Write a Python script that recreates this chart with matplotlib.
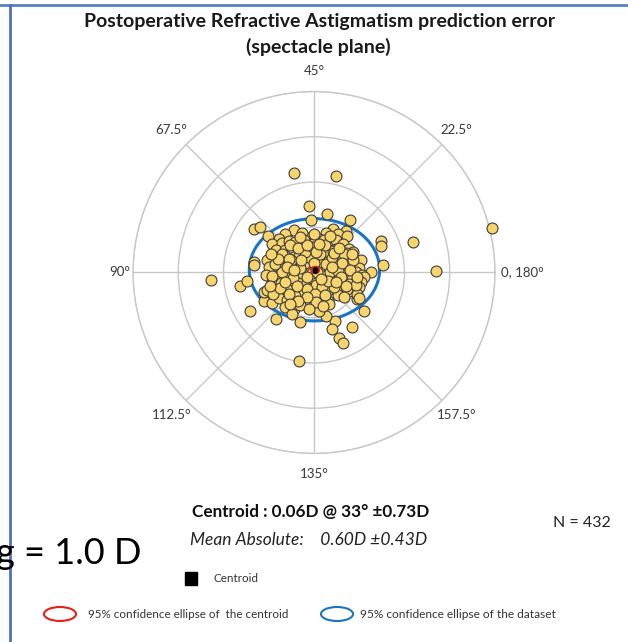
import numpy as np
import matplotlib.pyplot as plt
from matplotlib.patches import Ellipse, Rectangle

plt.rcParams['font.family'] = ['Lato', 'DejaVu Sans']

# double-angle plot data: vector components (D), x = cos(2*axis), y = sin(2*axis)
# outliers
x_out = [-0.44, 0.48, -0.11, 0.28, -0.07, 0.80, -1.33, -1.20, 1.47, 1.49, 2.19, 2.69,
         -2.27, -1.63, -1.47, -1.32, -1.33, 1.52, 1.27, -1.41, -0.85, -0.32, 0.46, 0.39,
         0.84, 1.11, 0.56, 0.63, -0.33, -1.11, -1.11, -0.93, 0.26, 0.96, 3.93]
y_out = [2.19, 2.13, 1.47, 1.30, 1.17, 1.15, 0.97, 1.01, 0.70, 0.58, 0.67, 0.04,
         -0.16, -0.29, -0.18, 0.24, 0.16, 0.17, 0.01, -0.85, -1.03, -1.10, -1.07, -1.24,
         -1.20, -0.84, -1.44, -1.55, -1.96, -0.64, -0.42, -0.68, -0.96, -0.59, 0.98]

# main cluster
x_cl = [-0.44, 0.41, 0.70, 0.52, 0.73, 0.26, 0.11, -0.07, -0.26, -0.63, -0.78, -1.02,
        -0.93, -0.70, -0.56, -0.41, -0.22, 0.00, 0.22, 0.37, 0.48, 0.63, 0.78, 0.87,
        1.04, -1.04, -1.00, -0.85, -0.63, -0.48, -0.30, -0.11, 0.11, 0.30, 0.48, 0.70,
        -0.81, -0.63, -0.44, -0.19, 0.04, 0.26, 0.56, 0.74, 1.00, -0.78, -0.56, -0.37,
        -0.15, 0.26, 0.48, 0.70, 0.93, 1.07, -1.07, -0.85, -0.63, -0.41, -0.26, 0.26,
        0.44, 0.67, 0.85, 1.11, 1.04, -0.93, -0.74, -0.56, -0.33, -0.15, 0.11, 0.33,
        0.56, 0.78, 1.00, -1.04, -0.85, -0.67, -0.44, -0.22, 0.04, 0.30, 0.56, 0.78,
        0.96, 0.99, -0.78, -0.59, -0.41, -0.22, 0.04, 0.30, 0.52, -0.63, -0.44, -0.30,
        0.11, 0.33, -0.48, 0.11,
        -0.10, 0.12, 0.20, -0.05, 0.10, -0.20, 0.26, -0.10, 0.05, 0.18, -0.26, 0.36,
        -0.34, 0.40, -0.46, 0.44, 0.20, -0.20, 0.00, -0.04, 0.06, -0.30, 0.30, -0.16,
        0.14, -0.50, 0.52, -0.60, 0.60, -0.02, 0.02, -0.38, 0.42, -0.52, 0.66, -0.70,
        0.72, -0.86, 0.86, -0.90,
        -0.70, -0.55, -0.35, -0.15, 0.05, 0.25, 0.45, 0.62, 0.80, 0.92, 0.70, 0.48,
        0.25, 0.05, -0.15, -0.35, -0.55, -0.75, -0.92, -0.80, -0.60, -0.45, -0.15, 0.15,
        0.40, 0.55, -0.28, 0.10, -0.65, 0.66, 0.20, -0.10, -0.52, 0.84, -0.95, 0.35,
        -0.30, 0.00, 0.95, -0.98]
y_cl = [0.95, 0.97, 0.91, 0.86, 0.81, 0.87, 0.74, 0.79, 0.87, 0.84, 0.74, 0.81,
        0.64, 0.65, 0.69, 0.67, 0.71, 0.65, 0.71, 0.61, 0.71, 0.64, 0.53, 0.46,
        0.28, 0.28, 0.13, 0.50, 0.50, 0.54, 0.50, 0.50, 0.54, 0.50, 0.52, 0.43,
        0.34, 0.36, 0.34, 0.32, 0.39, 0.34, 0.32, 0.21, 0.10, 0.17, 0.17, 0.21,
        0.17, 0.17, 0.17, 0.15, 0.02, -0.05, -0.05, -0.07, -0.01, -0.01, -0.07, -0.01,
        -0.03, -0.05, -0.15, -0.10, -0.22, -0.20, -0.24, -0.20, -0.20, -0.22, -0.20, -0.16,
        -0.20, -0.25, -0.33, -0.39, -0.42, -0.35, -0.39, -0.42, -0.42, -0.39, -0.35, -0.40,
        -0.47, -0.57, -0.57, -0.61, -0.53, -0.68, -0.57, -0.64, -0.50, -0.76, -0.81, -0.72,
        -0.76, -0.70, -0.92, -0.84,
        0.08, 0.06, -0.08, -0.12, 0.24, 0.22, 0.18, 0.34, -0.28, -0.32, -0.02, 0.02,
        0.36, 0.34, -0.12, -0.32, 0.46, 0.46, 0.20, -0.02, 0.02, 0.10, -0.18, -0.36,
        0.40, 0.28, 0.04, -0.36, -0.10, 0.56, -0.48, -0.30, 0.48, 0.60, 0.40, 0.02,
        -0.36, 0.18, 0.28, -0.48,
        0.40, 0.30, 0.55, 0.60, 0.45, 0.60, 0.42, 0.22, 0.05, -0.28, -0.30, -0.20,
        -0.50, -0.65, -0.55, -0.62, -0.48, -0.35, -0.08, 0.30, 0.12, 0.05, -0.10, -0.15,
        0.12, 0.55, 0.28, 0.62, -0.20, -0.55, -0.75, -0.80, -0.70, 0.40, 0.40, 0.80,
        0.78, 0.85, -0.10, -0.30]

centroid_mag = 0.06   # D
centroid_axis = 33    # degrees
ell_data = dict(cx=0.01, cy=0.06, a=1.44, b=1.13)
ell_cent = dict(a=0.085, b=0.07)

angle_labels = ['0, 180°', '22.5°', '45°', '67.5°', '90°', '112.5°', '135°', '157.5°']

x = np.array(x_out + x_cl)
y = np.array(y_out + y_cl)
r = np.hypot(x, y)
th = np.arctan2(y, x)

fig = plt.figure(figsize=(6.28, 6.42), dpi=100)
ax = fig.add_axes([0.2118, 0.2936, 0.5764, 0.5639], projection='polar')
ax.set_ylim(0, 4)
ax.set_rgrids([1, 2, 3, 4], labels=[''] * 4)
ax.set_thetagrids(np.arange(0, 360, 45), angle_labels)
ax.tick_params(axis='x', length=0, pad=8, labelsize=9.5, labelcolor='#3a3a3a')
ax.grid(color='#c8c8c8', lw=1.0)
ax.spines['polar'].set_color('#c8c8c8')
ax.spines['polar'].set_linewidth(1.0)
ax.set_axisbelow(True)
ticks = ax.xaxis.get_major_ticks()
ticks[0].label1.set_horizontalalignment('left')
ticks[0].set_pad(-3)
ticks[4].label1.set_horizontalalignment('right')
ticks[4].set_pad(-5)

# 95% ellipse of the dataset
t = np.linspace(0, 2 * np.pi, 361)
ex = ell_data['cx'] + ell_data['a'] * np.cos(t)
ey = ell_data['cy'] + ell_data['b'] * np.sin(t)
ax.plot(np.arctan2(ey, ex), np.hypot(ex, ey), color='#1a74c6', lw=2.2, zorder=2)

ax.scatter(th, r, s=62, c='#f8d46c', edgecolors='#3c3c3c', linewidths=0.8,
           zorder=3, clip_on=False)

# centroid and its ellipse
cth = np.radians(2 * centroid_axis)
cxx, cyy = centroid_mag * np.cos(cth), centroid_mag * np.sin(cth)
ex = cxx + ell_cent['a'] * np.cos(t)
ey = cyy + ell_cent['b'] * np.sin(t)
ax.plot(np.arctan2(ey, ex), np.hypot(ex, ey), color='#e8201c', lw=1.6, zorder=4)
ax.scatter([cth], [centroid_mag], s=10, marker='s', c='black', zorder=5)

# overlay in pixel units for frame, titles and legend
ov = fig.add_axes([0, 0, 1, 1])
ov.set_xlim(0, 628)
ov.set_ylim(642, 0)
ov.axis('off')
ov.patch.set_visible(False)
ov.plot([0, 628], [4.5, 4.5], color='#5b7fbf', lw=2.0)
ov.plot([10, 10], [4.5, 642], color='#4d72b8', lw=2.0)

ov.text(320, 22, 'Postoperative Refractive Astigmatism prediction error', ha='center',
        va='center', fontsize=14, fontweight='bold', color='#1a1a1a')
ov.text(318, 47, '(spectacle plane)', ha='center', va='center', fontsize=14,
        fontweight='bold', color='#1a1a1a')

ov.text(311, 512, 'Centroid : 0.06D @ 33° ±0.73D', ha='center', va='center',
        fontsize=12.3, fontweight='bold', color='#111111')
ov.text(190, 540, 'Mean Absolute:    0.60D ±0.43D', ha='left', va='center',
        fontsize=12.5, style='italic', color='#222222')
ov.text(553, 523, 'N = 432', ha='left', va='center', fontsize=11.5, color='#222222')
ov.text(142, 553, 'g = 1.0 D', ha='right', va='center', fontsize=26, color='black')

ov.add_patch(Rectangle((185, 572), 12, 13, color='black'))
ov.text(213, 579, 'Centroid', ha='left', va='center', fontsize=8.4, color='#333333')
ov.add_patch(Ellipse((60, 614), 32, 14, fill=False, ec='#e8201c', lw=1.5))
ov.text(88, 615, '95% confidence ellipse of  the centroid', ha='left', va='center',
        fontsize=8.4, color='#333333')
ov.add_patch(Ellipse((337, 614), 32, 14, fill=False, ec='#1a74c6', lw=1.5))
ov.text(360, 615, '95% confidence ellipse of the dataset', ha='left', va='center',
        fontsize=8.6, color='#333333')

fig.savefig('out.png', dpi=100, facecolor='white')
